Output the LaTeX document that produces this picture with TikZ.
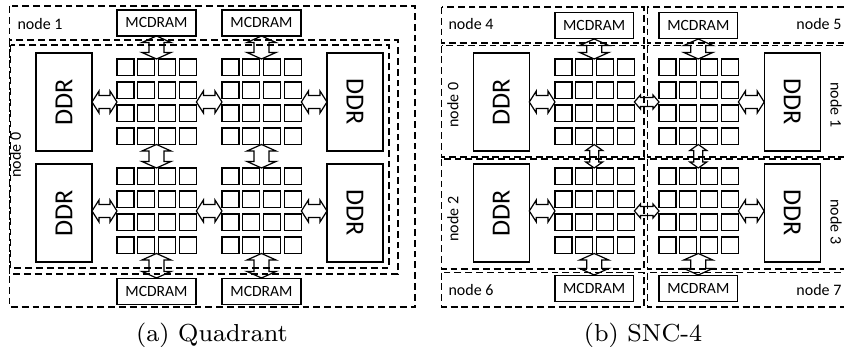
\documentclass[tikz,border=0pt]{standalone}
\usepackage{fontspec}
\newfontfamily\carlito{Carlito}
\newcommand\dblV[6]{% x, ytop, ybot, shaft half, head half, head length
 \draw[arrline] (#1,#2) -- (#1+#5,#2+#6) -- (#1+#4,#2+#6) -- (#1+#4,#3-#6) -- (#1+#5,#3-#6) -- (#1,#3) -- (#1-#5,#3-#6) -- (#1-#4,#3-#6) -- (#1-#4,#2+#6) -- (#1-#5,#2+#6) -- cycle;}
\newcommand\dblH[6]{% y, xleft, xright, shaft half, head half, head length
 \draw[arrline] (#2,#1) -- (#2+#6,#1-#5) -- (#2+#6,#1-#4) -- (#3-#6,#1-#4) -- (#3-#6,#1-#5) -- (#3,#1) -- (#3-#6,#1+#5) -- (#3-#6,#1+#4) -- (#2+#6,#1+#4) -- (#2+#6,#1+#5) -- cycle;}
\begin{document}
\begin{tikzpicture}[x=0.33333pt,y=-0.33333pt,
 solidbox/.style={draw, line width=0.45pt, inner sep=0pt},
 mcbox/.style={solidbox, minimum width=79*0.33333pt, minimum height=26*0.33333pt, font=\carlito\fontsize{5.2pt}{6pt}\selectfont},
 ddrbox/.style={solidbox, minimum width=98*0.33333pt, minimum height=56*0.33333pt, font=\carlito\fontsize{8.7pt}{10pt}\selectfont},
 region/.style={draw, line width=0.35pt, dash pattern=on 2.3pt off 1.3pt},
 lbl/.style={inner sep=0pt, font=\carlito\fontsize{5.33pt}{6pt}\selectfont},
 core/.style={draw, line width=0.45pt},
 arrline/.style={draw, line width=0.4pt, line join=miter},
 captext/.style={inner sep=0pt, anchor=base, font=\fontsize{8.2pt}{10pt}\selectfont},
]
\useasboundingbox (0,0) rectangle (844,347);

% ---------------- (a) Quadrant ----------------
\draw[region] (9.5,6) rectangle (415,307);
\draw[region] (9.5,40) rectangle (398,274);
\draw[region] (10.5,45) rectangle (389,268);
\node[lbl, anchor=base west] (n1a) at (17,29.5) {node 1};
\node[lbl, rotate=90] (n0a) at (15.5,155) {node 0};

\node[mcbox] (mcA1) at (156.5,23) {MCDRAM};
\node[mcbox] (mcA2) at (261.5,23) {MCDRAM};
\node[mcbox] (mcA3) at (156.5,291.5) {MCDRAM};
\node[mcbox] (mcA4) at (261.5,291.5) {MCDRAM};

\node[ddrbox, rotate=90] (ddrA1) at (64,102) {DDR};
\node[ddrbox, rotate=-90] (ddrA2) at (355,102) {DDR};
\node[ddrbox, rotate=90] (ddrA3) at (64,213) {DDR};
\node[ddrbox, rotate=-90] (ddrA4) at (355,213) {DDR};

\foreach \gx in {117,222}{\foreach \gy in {59,168}{\foreach \i in {0,...,3}{\foreach \j in {0,...,3}{
  \draw[core] ({\gx+\i*20.8},{\gy+\j*23}) rectangle +(17,16.5);}}}}

\foreach \ax in {156.5,261.5}{
  \dblV{\ax}{36}{59}{7.5}{14.5}{6.5}
  \dblV{\ax}{144.5}{168}{7.5}{14.5}{6.5}
  \dblV{\ax}{253.5}{278}{7.5}{14.5}{6.5}}
\foreach \ay in {102,211}{
  \dblH{\ay}{92}{117}{6.5}{11}{7}
  \dblH{\ay}{196.4}{222}{6.5}{11}{7}
  \dblH{\ay}{301.4}{327}{6.5}{11}{7}}

\node[captext] (capA) at (212,342) {(a) Quadrant};

% ---------------- (b) SNC-4 ----------------
\draw[region] (441.7,7) rectangle (644,43);
\draw[region] (647.3,7) rectangle (850,43);
\draw[region] (441.7,45.7) rectangle (644,157);
\draw[region] (647.3,45.7) rectangle (850,157);
\draw[region] (441.7,159) rectangle (644,269);
\draw[region] (647.3,159) rectangle (850,269);
\draw[region] (441.7,272.7) rectangle (644,307);
\draw[region] (647.3,272.7) rectangle (850,307);

\node[lbl, anchor=base west] (n4) at (448,30) {node 4};
\node[lbl, anchor=base east] (n5) at (842,30) {node 5};
\node[lbl, anchor=base west] (n6) at (448,296) {node 6};
\node[lbl, anchor=base east] (n7) at (842,296) {node 7};
\node[lbl, rotate=90] (n0b) at (453,105) {node 0};
\node[lbl, rotate=90] (n2b) at (453,219) {node 2};
\node[lbl, rotate=-90] (n1b) at (836,105) {node 1};
\node[lbl, rotate=-90] (n3b) at (836,222) {node 3};

\node[mcbox, minimum width=78.3*0.33333pt] (mcB1) at (594.2,25.8) {MCDRAM};
\node[mcbox, minimum width=78.3*0.33333pt] (mcB2) at (698.3,25.8) {MCDRAM};
\node[mcbox, minimum width=78.3*0.33333pt] (mcB3) at (594.2,288.3) {MCDRAM};
\node[mcbox, minimum width=78.3*0.33333pt] (mcB4) at (698.3,288.3) {MCDRAM};

\node[ddrbox, rotate=90] (ddrB1) at (501.3,102) {DDR};
\node[ddrbox, rotate=-90] (ddrB2) at (792.2,102) {DDR};
\node[ddrbox, rotate=90] (ddrB3) at (501.3,213) {DDR};
\node[ddrbox, rotate=-90] (ddrB4) at (792.2,213) {DDR};

\foreach \gx in {555,659}{\foreach \gy in {59,168}{\foreach \i in {0,...,3}{\foreach \j in {0,...,3}{
  \draw[core] ({\gx+\i*20.8},{\gy+\j*23}) rectangle +(17,16.5);}}}}

\foreach \ax in {594.2,698.3}{
  \dblV{\ax}{39}{59}{7.5}{14.5}{6.5}
  \dblV{\ax}{144.5}{168}{4.5}{8.5}{6}
  \dblV{\ax}{253.5}{275}{7.5}{14.5}{6.5}}
\foreach \ay in {102,211}{
  \dblH{\ay}{529.3}{555}{6.5}{11}{7}
  \dblH{\ay}{634.4}{659}{4.5}{7}{6}
  \dblH{\ay}{738.4}{764.2}{6.5}{11}{7}}

\node[captext] (capB) at (643,342) {(b) SNC-4};
\end{tikzpicture}
\end{document}
